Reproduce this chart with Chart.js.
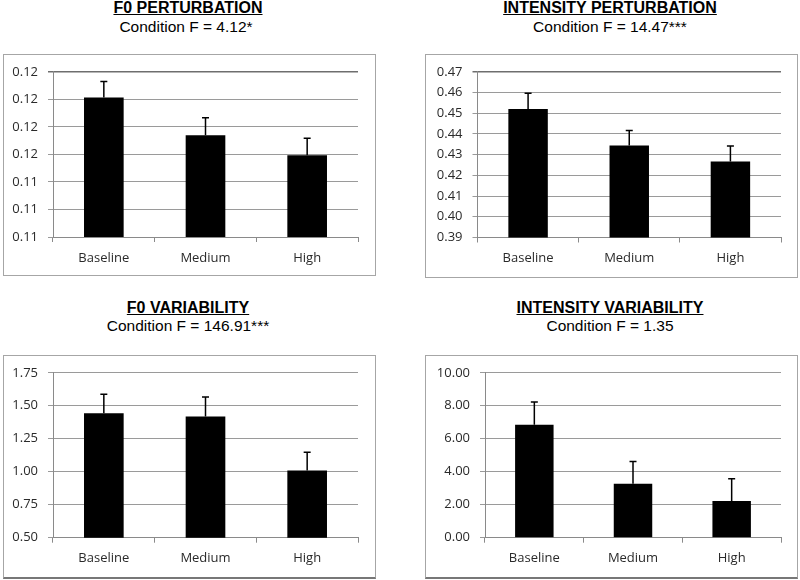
<!DOCTYPE html>
<html>
<head>
<meta charset="utf-8">
<script src="https://cdn.jsdelivr.net/npm/chart.js@4"></script>
<style>
  html, body { margin: 0; padding: 0; background: #fff; }
  body { width: 800px; height: 580px; position: relative; overflow: hidden; font-family: "Liberation Sans", Arial, sans-serif; }
  .title { position: absolute; width: 380px; text-align: center; font-size: 16px; font-weight: bold; text-decoration: underline; color: #000; line-height: 17px; white-space: nowrap; }
  .sub { position: absolute; width: 380px; text-align: center; font-size: 15.5px; color: #000; line-height: 17px; white-space: nowrap; }
  .box { position: absolute; box-sizing: border-box; border: 1px solid #a6a6a6; }
  canvas { position: absolute; }
</style>
</head>
<body>
<div class="title" style="left:-2px; top:-1px;">F0 PERTURBATION</div>
<div class="sub" style="left:-4px; top:18px;">Condition F = 4.12*</div>
<div class="title" style="left:420px; top:-1px;">INTENSITY PERTURBATION</div>
<div class="sub" style="left:420px; top:18px;">Condition F = 14.47***</div>
<div class="title" style="left:-2px; top:299px;">F0 VARIABILITY</div>
<div class="sub" style="left:-2px; top:317px;">Condition F = 146.91***</div>
<div class="title" style="left:420px; top:299px;">INTENSITY VARIABILITY</div>
<div class="sub" style="left:420px; top:317px;">Condition F = 1.35</div>

<div class="box" style="left:3px; top:54px; width:373px; height:222px;"></div>
<div class="box" style="left:425px; top:54px; width:373px; height:224px;"></div>
<div class="box" style="left:3px; top:355px; width:373px; height:224px; border-bottom:2px solid #777;"></div>
<div class="box" style="left:425px; top:355px; width:373px; height:224px; border-bottom:2px solid #777;"></div>

<canvas id="c1" width="373" height="222" style="left:3px; top:54px;"></canvas>
<canvas id="c2" width="373" height="224" style="left:425px; top:54px;"></canvas>
<canvas id="c3" width="373" height="223" style="left:3px; top:355px;"></canvas>
<canvas id="c4" width="373" height="223" style="left:425px; top:355px;"></canvas>

<script>
// ---- Data ----
const categories = ['Baseline', 'Medium', 'High'];

const f0PertMeans = [0.11707, 0.11570, 0.11497];
const f0PertErr   = [0.00058, 0.00063, 0.00062];
const f0PertTickLabels = ['0.11', '0.11', '0.11', '0.12', '0.12', '0.12', '0.12'];

const intPertMeans = [0.4520, 0.4344, 0.4267];
const intPertErr   = [0.0077, 0.0072, 0.0075];
const intPertTickLabels = ['0.39', '0.40', '0.41', '0.42', '0.43', '0.44', '0.45', '0.46', '0.47'];

const f0VarMeans = [1.444, 1.419, 1.010];
const f0VarErr   = [0.143, 0.148, 0.138];
const f0VarTickLabels = ['0.50', '0.75', '1.00', '1.25', '1.50', '1.75'];

const intVarMeans = [6.85, 3.27, 2.23];
const intVarErr   = [1.38, 1.35, 1.35];
const intVarTickLabels = ['0.00', '2.00', '4.00', '6.00', '8.00', '10.00'];

// ---- Error bar plugin (uses the chart's own scales) ----
const errorBars = {
  id: 'errorBars',
  afterDatasetsDraw(chart) {
    const ctx = chart.ctx;
    const yScale = chart.scales.y;
    chart.data.datasets.forEach((ds, di) => {
      const meta = chart.getDatasetMeta(di);
      meta.data.forEach((bar, i) => {
        const v = ds.data[i];
        const e = ds.errors[i];
        const yTop = yScale.getPixelForValue(v + e);
        const yBase = bar.y;
        ctx.save();
        ctx.strokeStyle = '#000';
        ctx.lineWidth = 1.5;
        ctx.beginPath();
        ctx.moveTo(bar.x, yBase);
        ctx.lineTo(bar.x, yTop);
        ctx.moveTo(bar.x - 3.5, yTop);
        ctx.lineTo(bar.x + 3.5, yTop);
        ctx.stroke();
        ctx.restore();
      });
    });
  }
};

const tickFont = { family: '"Open Sans", sans-serif', size: 13 };
const tickColor = '#2a2a2a';

function makeChart(id, means, errs, min, max, step, tickLabels, geom, topDark) {
  return new Chart(document.getElementById(id), {
    type: 'bar',
    data: {
      labels: categories,
      datasets: [{
        data: means,
        errors: errs,
        backgroundColor: '#000',
        borderWidth: 0,
        categoryPercentage: 1.0,
        barPercentage: 0.39
      }]
    },
    options: {
      responsive: false,
      animation: false,
      devicePixelRatio: 1,
      layout: { padding: { left: 0, right: geom.right, top: geom.top, bottom: 0 } },
      plugins: { legend: { display: false }, tooltip: { enabled: false }, title: { display: false } },
      scales: {
        x: {
          offset: true,
          grid: { display: true, drawOnChartArea: false, drawTicks: true, tickLength: 5, color: '#8a8a8a', offset: true },
          border: { display: true, color: '#8a8a8a', width: 1 },
          ticks: { font: tickFont, color: tickColor, padding: 8, maxRotation: 0 },
          afterFit: s => { s.height = geom.bottom; }
        },
        y: {
          min: min, max: max,
          ticks: {
            stepSize: step,
            font: tickFont, color: tickColor, padding: 10,
            callback: (v, i) => tickLabels[i]
          },
          grid: {
            color: c => (topDark && c.index === tickLabels.length - 1) ? '#6e6e6e' : '#9a9a9a',
            lineWidth: c => (topDark && c.index === tickLabels.length - 1) ? 1.5 : 1,
            tickLength: 5
          },
          border: { display: true, color: '#8a8a8a', width: 1 },
          afterFit: s => { s.width = geom.left; }
        }
      }
    },
    plugins: [errorBars]
  });
}

makeChart('c1', f0PertMeans, f0PertErr, 0.112, 0.118, 0.001, f0PertTickLabels,
  { left: 50, right: 18, top: 17, bottom: 39 }, true);
makeChart('c2', intPertMeans, intPertErr, 0.39, 0.47, 0.01, intPertTickLabels,
  { left: 52.5, right: 17, top: 17, bottom: 40.5 }, true);
makeChart('c3', f0VarMeans, f0VarErr, 0.5, 1.75, 0.25, f0VarTickLabels,
  { left: 50, right: 18, top: 16.7, bottom: 40.3 }, false);
makeChart('c4', intVarMeans, intVarErr, 0, 10, 2, intVarTickLabels,
  { left: 60, right: 17, top: 16.7, bottom: 40.3 }, false);
</script>
</body>
</html>
